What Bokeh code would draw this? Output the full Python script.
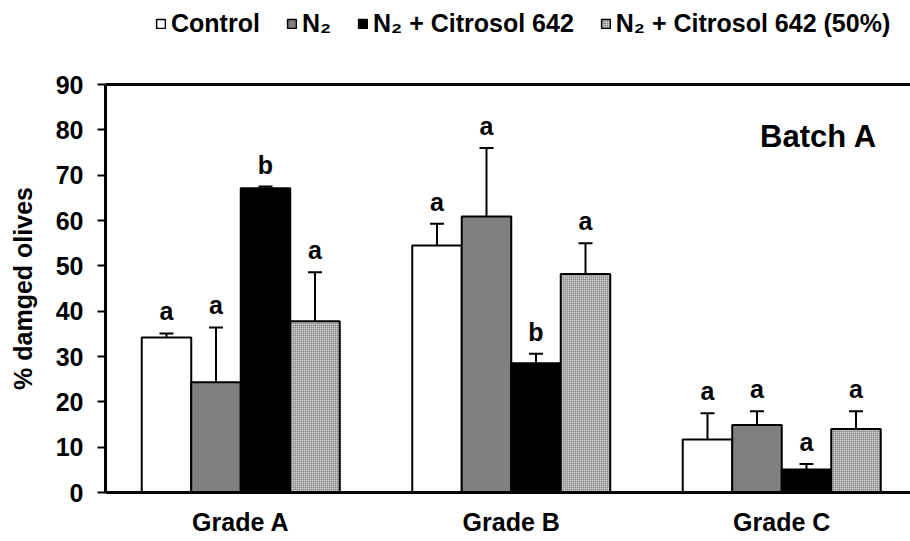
import numpy as np
from bokeh.plotting import figure
from bokeh.layouts import column
from bokeh.models import (Range1d, FixedTicker, LinearAxis, Legend, LegendItem,
                          Whisker, TeeHead, ColumnDataSource, Label)
from bokeh.embed import file_html
from bokeh.resources import INLINE
from bokeh.core.properties import value

grades = ["Grade A", "Grade B", "Grade C"]
series = ["Control", "N₂", "N₂ + Citrosol 642", "N₂ + Citrosol 642 (50%)"]

control = [34.2, 54.5, 11.7]
control_err = [0.9, 4.8, 5.8]
n2 = [24.3, 60.9, 14.9]
n2_err = [12.1, 15.1, 3.0]
n2_cit = [67.1, 28.5, 5.1]
n2_cit_err = [0.4, 2.1, 1.2]
n2_cit50 = [37.8, 48.2, 14.0]
n2_cit50_err = [10.8, 6.8, 3.9]

letters_control = ["a", "a", "a"]
letters_n2 = ["a", "a", "a"]
letters_n2_cit = ["b", "b", "a"]
letters_n2_cit50 = ["a", "a", "a"]

y_ticks = [0, 10, 20, 30, 40, 50, 60, 70, 80, 90]
panel_title = "Batch A"
y_title = "% damged olives"

FONT = "Liberation Sans"
LEG_H = 44

fills = ["white", "#808080", "black", "#d4d4d4"]
hatch = [None, None, None, dict(hatch_pattern="cross", hatch_color="#707070",
                                hatch_scale=2, hatch_weight=1, hatch_alpha=0.9)]

n = len(grades)
centers = np.arange(n) + 0.5
bw = 0.183
vals = [control, n2, n2_cit, n2_cit50]
errs = [control_err, n2_err, n2_cit_err, n2_cit50_err]
lets = [letters_control, letters_n2, letters_n2_cit, letters_n2_cit50]
offsets = [-1.5 * bw, -0.5 * bw, 0.5 * bw, 1.5 * bw]

# ---------- legend strip (hidden copies of the series, shown only as legend keys) ----------
lf = figure(width=910, height=LEG_H, x_range=Range1d(0, 2.976), y_range=Range1d(0, 90),
            output_backend="svg", toolbar_location=None,
            x_axis_location=None, y_axis_location=None,
            min_border_left=0, min_border_right=0, min_border_top=0, min_border_bottom=0)
lf.outline_line_color = None
lf.grid.visible = False
leg_items = []
for k in range(4):
    kw = hatch[k] or {}
    r = lf.vbar(x=centers + offsets[k], top=vals[k], width=bw, fill_color=fills[k],
                line_color="black", line_width=1.5, visible=False, **kw)
    leg_items.append(LegendItem(label=series[k], renderers=[r]))
legend = Legend(items=leg_items, orientation="horizontal", location=(50, 6),
                label_text_font=FONT, label_text_font_style="bold",
                label_text_font_size="25px", label_text_color="black",
                glyph_width=11, glyph_height=11, label_standoff=5, spacing=26,
                padding=0, margin=0, border_line_color=None,
                background_fill_alpha=0, inactive_fill_alpha=0)
lf.add_layout(legend)

# ---------- main chart ----------
p = figure(width=910, height=541 - LEG_H, x_range=Range1d(0, 2.976), y_range=Range1d(0, 90),
           output_backend="svg", toolbar_location=None,
           min_border_left=105, min_border_right=0, min_border_top=84 - LEG_H,
           min_border_bottom=49)
p.outline_line_color = None
p.grid.visible = False

p.yaxis.ticker = FixedTicker(ticks=y_ticks)
p.yaxis.minor_tick_line_color = None
p.yaxis.major_tick_out = 8
p.yaxis.major_tick_in = 0
p.yaxis.major_tick_line_width = 2
p.yaxis.axis_line_width = 3
p.yaxis.major_label_text_font = FONT
p.yaxis.major_label_text_font_style = "bold"
p.yaxis.major_label_text_font_size = "25px"
p.yaxis.major_label_text_color = "black"
p.yaxis.major_label_standoff = 14
p.yaxis.axis_label = y_title
p.yaxis.axis_label_text_font = FONT
p.yaxis.axis_label_text_font_style = "bold"
p.yaxis.axis_label_text_font_size = "25px"
p.yaxis.axis_label_text_color = "black"
p.yaxis.axis_label_standoff = 16

p.xaxis.ticker = FixedTicker(ticks=list(centers))
p.xaxis.major_label_overrides = {float(c): g for c, g in zip(centers, grades)}
p.xaxis.major_tick_out = 0
p.xaxis.major_tick_in = 0
p.xaxis.minor_tick_line_color = None
p.xaxis.axis_line_width = 3
p.xaxis.major_label_text_font = FONT
p.xaxis.major_label_text_font_style = "bold"
p.xaxis.major_label_text_font_size = "25px"
p.xaxis.major_label_text_color = "black"
p.xaxis.major_label_standoff = 15

top_axis = LinearAxis(ticker=FixedTicker(ticks=[]), axis_line_width=3,
                      major_tick_line_color=None, minor_tick_line_color=None)
p.add_layout(top_axis, "above")

for k in range(4):
    xs = centers + offsets[k]
    src = ColumnDataSource(dict(x=xs, top=vals[k],
                                up=np.array(vals[k]) + np.array(errs[k]),
                                lab=lets[k]))
    kw = hatch[k] or {}
    p.vbar(x="x", top="top", width=bw, bottom=0, source=src,
           fill_color=fills[k], line_color="black", line_width=2, **kw)
    w = Whisker(base="x", upper="up", lower="top", source=src, dimension="height",
                line_color="black", line_width=2,
                upper_head=TeeHead(size=14, line_width=2, line_color="black"),
                lower_head=None)
    p.add_layout(w)
    p.text(x="x", y="up", text="lab", source=src, text_align="center",
           text_baseline="bottom", y_offset=-8, text_font=value(FONT),
           text_font_style="bold", text_font_size="25px", text_color="black")

p.add_layout(Label(x=2.42, y=78.5, text=panel_title, text_font=FONT,
                   text_font_style="bold", text_font_size="31px",
                   text_color="black", text_baseline="alphabetic"))

open("out.html", "w").write(file_html(column(lf, p, spacing=0), INLINE))
